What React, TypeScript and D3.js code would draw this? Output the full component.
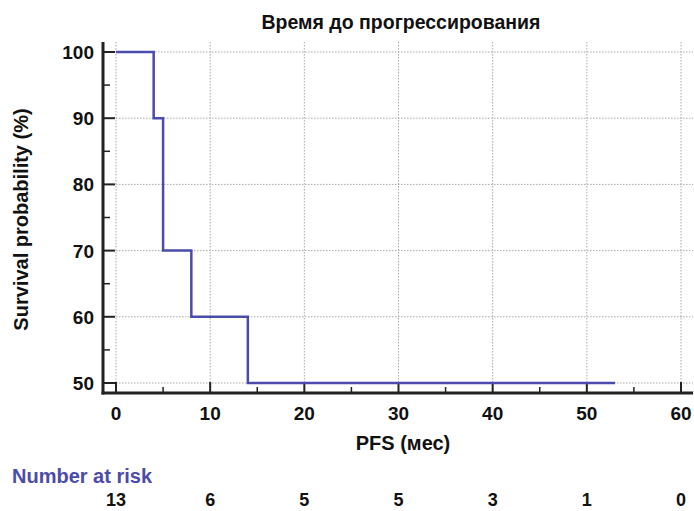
import React from "react";
import * as d3 from "d3";

const stepTimes = [0, 4, 5, 8, 14, 53];
const stepSurvival = [100, 90, 70, 60, 50, 50];
const xTicks = [0, 10, 20, 30, 40, 50, 60];
const yTicks = [50, 60, 70, 80, 90, 100];
const riskTimes = [0, 10, 20, 30, 40, 50, 60];
const riskCounts = [13, 6, 5, 5, 3, 1, 0];

const W = 694;
const H = 511;

export default function App() {
  const x = d3.scaleLinear().domain([0, 60]).range([116, 681]);
  const y = d3.scaleLinear().domain([50, 100]).range([383, 52]);
  const axisX = 103;
  const axisY = 393;
  const top = 42;
  const right = 693;

  const pts: [number, number][] = stepTimes.map((t, i) => [t, stepSurvival[i]]);
  const line = d3
    .line<[number, number]>()
    .x((d) => x(d[0]))
    .y((d) => y(d[1]))
    .curve(d3.curveStepAfter);

  const xMinor = d3.range(5, 66, 10);
  const yMinor = d3.range(55, 100, 10);
  const font = "Liberation Sans, Arial, sans-serif";

  return (
    <svg width={W} height={H} style={{ position: "absolute", left: 0, top: 0 }} fontFamily={font}>
      <rect width={W} height={H} fill="#fff" />
      <text x={401} y={29} textAnchor="middle" fontSize={19.5} fontWeight="bold" fill="#111">
        Время до прогрессирования
      </text>
      {/* grid */}
      {xTicks.map((t) => (
        <line key={"gx" + t} x1={x(t)} x2={x(t)} y1={top} y2={axisY} stroke="#aaa" strokeWidth={1} strokeDasharray="1.5,1.5" />
      ))}
      {yTicks.map((t) => (
        <line key={"gy" + t} x1={x(0)} x2={right} y1={y(t)} y2={y(t)} stroke="#aaa" strokeWidth={1} strokeDasharray="1.5,1.5" />
      ))}
      {/* axes */}
      <line x1={axisX} x2={axisX} y1={top} y2={axisY + 1.5} stroke="#222" strokeWidth={3} />
      <line x1={axisX - 1.5} x2={right} y1={axisY} y2={axisY} stroke="#222" strokeWidth={3} />
      {yTicks.map((t) => (
        <line key={"ty" + t} x1={axisX} x2={axisX + 12} y1={y(t)} y2={y(t)} stroke="#222" strokeWidth={2} />
      ))}
      {yMinor.map((t) => (
        <line key={"tym" + t} x1={axisX} x2={axisX + 7} y1={y(t)} y2={y(t)} stroke="#222" strokeWidth={1.5} />
      ))}
      {xTicks.map((t) => (
        <line key={"tx" + t} x1={x(t)} x2={x(t)} y1={axisY} y2={axisY - 11} stroke="#222" strokeWidth={2} />
      ))}
      {xMinor.filter((t) => x(t) < right).map((t) => (
        <line key={"txm" + t} x1={x(t)} x2={x(t)} y1={axisY} y2={axisY - 6} stroke="#222" strokeWidth={1.5} />
      ))}
      {/* tick labels */}
      {yTicks.map((t) => (
        <text key={"ly" + t} x={axisX - 9} y={y(t) + 7} textAnchor="end" fontSize={19} fontWeight="bold" fill="#111">
          {t}
        </text>
      ))}
      {xTicks.map((t) => (
        <text key={"lx" + t} x={x(t)} y={420} textAnchor="middle" fontSize={19} fontWeight="bold" fill="#111">
          {t}
        </text>
      ))}
      <text transform={`translate(28,${(top + axisY) / 2 + 2}) rotate(-90)`} textAnchor="middle" fontSize={20} fontWeight="bold" fill="#111">
        Survival probability (%)
      </text>
      <text x={403} y={450} textAnchor="middle" fontSize={20} fontWeight="bold" fill="#111">
        PFS (мес)
      </text>
      {/* curve */}
      <path d={line(pts) || ""} fill="none" stroke="#4b4bab" strokeWidth={2.5} />
      {/* risk table */}
      <text x={12} y={483} fontSize={20} fontWeight="bold" fill="#4b4bab">
        Number at risk
      </text>
      {riskTimes.map((t, i) => (
        <text key={"r" + t} x={x(t)} y={506} textAnchor="middle" fontSize={18} fontWeight="bold" fill="#111">
          {riskCounts[i]}
        </text>
      ))}
    </svg>
  );
}
